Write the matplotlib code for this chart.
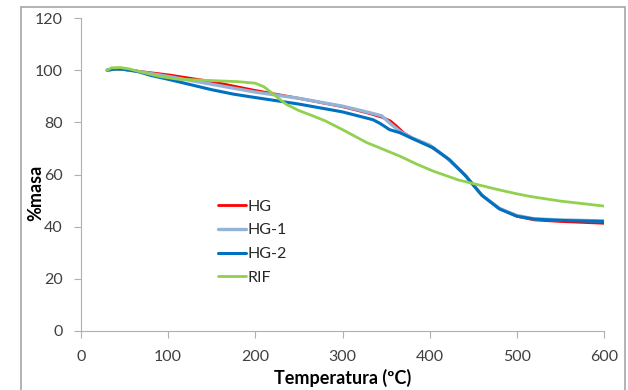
import matplotlib.pyplot as plt
from matplotlib.patches import Rectangle

plt.rcParams['font.family'] = ['Lato', 'DejaVu Sans']

# temperatures (ºC) and % mass
hg_t = [30, 40, 50, 75, 100, 150, 200, 250, 300, 330, 345, 355, 362, 370, 380, 400, 420, 440, 460, 480, 500, 520, 550, 600]
hg_m = [100, 100.4, 100.2, 99.2, 98.2, 95.6, 92.2, 89.2, 86, 83.5, 82, 80.5, 78.5, 76, 74, 71, 66.3, 60, 52, 47, 44, 42.6, 42, 41.3]

hg1_t = [30, 40, 50, 75, 100, 150, 200, 250, 300, 330, 345, 355, 366, 380, 400, 420, 440, 460, 480, 500, 520, 550, 600]
hg1_m = [100, 100.5, 100.3, 99, 97.6, 94.6, 91.6, 89.2, 86.2, 83.8, 82.5, 79.5, 76.5, 74, 71.3, 66.3, 60, 52, 47, 44.3, 43, 42.6, 42.2]

hg2_t = [30, 40, 50, 65, 80, 100, 125, 150, 175, 200, 250, 300, 335, 343, 354, 366, 380, 404, 423, 442, 460, 480, 500, 520, 550, 600]
hg2_m = [100, 100.5, 100.3, 99.5, 98, 96.5, 94.5, 92.5, 90.8, 89.5, 87, 84, 81, 79.6, 77.2, 76, 73.8, 70.2, 65.6, 59.2, 52, 46.8, 44, 42.9, 42.4, 42]

rif_t = [30, 35, 45, 55, 70, 90, 110, 150, 180, 200, 210, 220, 235, 250, 265, 280, 300, 328, 350, 366, 385, 404, 433, 450, 481, 500, 515, 550, 600]
rif_m = [100, 100.9, 101, 100.5, 99.2, 97.6, 96.6, 96, 95.6, 95, 93.6, 91, 87, 84.5, 82.6, 80.6, 77.2, 72.2, 69.2, 67, 64, 61.3, 57.9, 56.5, 54, 52.6, 51.6, 49.8, 47.9]

fig = plt.figure(figsize=(6.28, 3.9), dpi=100)
ax = fig.add_axes([81/628, 1 - 331/390, (604 - 81)/628, (331 - 18)/390])

# grey frame of the chart area
fig.patches.append(Rectangle((21/628, -0.05), (625 - 21)/628, 1.05 - 7/390,
                             transform=fig.transFigure, fill=False,
                             edgecolor='#A6A6A6', linewidth=1.2))

ax.plot(hg_t, hg_m, color='#FF0000', lw=2, label='HG', solid_capstyle='round')
ax.plot(hg1_t, hg1_m, color='#95B3D7', lw=2.4, label='HG-1', solid_capstyle='round')
ax.plot(hg2_t, hg2_m, color='#0070C0', lw=2.2, label='HG-2', solid_capstyle='round')
ax.plot(rif_t, rif_m, color='#92D050', lw=2, label='RIF', solid_capstyle='round')

ax.set_xlim(0, 600)
ax.set_ylim(0, 120)
ax.set_xticks(range(0, 601, 100))
ax.set_yticks(range(0, 121, 20))
for s in ['top', 'right']:
    ax.spines[s].set_visible(False)
for s in ['left', 'bottom']:
    ax.spines[s].set_color('#B0B0B0')
ax.tick_params(colors='#B0B0B0', labelcolor='#404040', labelsize=11.5, length=5, direction='out')
ax.tick_params(axis='x', pad=9)
ax.tick_params(axis='y', pad=8)

ax.set_xlabel('Temperatura (ºC)', fontsize=13, fontweight='bold', labelpad=3)
ax.set_ylabel('%masa', fontsize=13, fontweight='bold')
ax.yaxis.set_label_coords(-0.071, 0.44)

ax.legend(loc='upper left', bbox_to_anchor=(0.235, 0.466), frameon=False,
          fontsize=11.5, handlelength=1.75, handletextpad=0.1, labelspacing=0.6,
          labelcolor='#262626')

fig.savefig('out.png', dpi=100)
